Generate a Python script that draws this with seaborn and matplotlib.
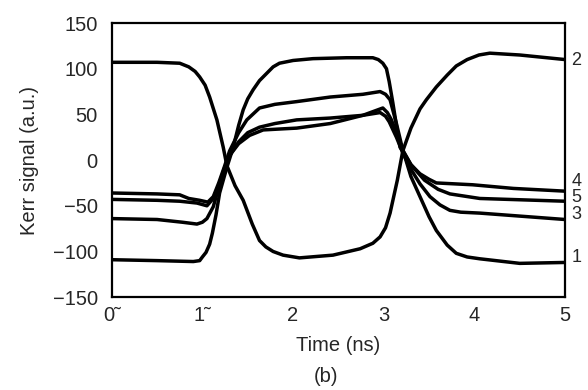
import matplotlib
matplotlib.use('Agg')
import matplotlib.pyplot as plt
import seaborn as sns
import pandas as pd

# curve values (time in ns, Kerr signal in a.u.)
t1 = [0, 0.5, 0.9, 0.97, 1.0, 1.04, 1.08, 1.11, 1.15, 1.19, 1.27, 1.34, 1.40, 1.45, 1.50, 1.56,
      1.63, 1.71, 1.78, 1.85, 2.0, 2.22, 2.59, 2.88, 2.94, 2.99, 3.03, 3.06, 3.10, 3.14, 3.18,
      3.22, 3.30, 3.40, 3.50, 3.58, 3.70, 3.80, 3.92, 4.06, 4.5, 5]
v1 = [-109, -110, -111, -110, -106, -101, -92, -80, -60, -36, -8, 14, 38, 55, 67, 77,
      87, 95, 102, 106, 109, 111, 112, 112, 110, 106, 100, 86, 63, 38, 14,
      8, -18, -40, -62, -77, -93, -102, -106, -108, -113, -112]

t2 = [0, 0.5, 0.75, 0.85, 0.92, 0.97, 1.03, 1.08, 1.16, 1.23, 1.27, 1.36, 1.45, 1.55, 1.63,
      1.70, 1.78, 1.89, 2.07, 2.44, 2.74, 2.88, 2.96, 3.02, 3.07, 3.15, 3.21, 3.30, 3.40,
      3.47, 3.58, 3.70, 3.80, 3.92, 4.05, 4.17, 4.5, 5]
v2 = [107, 107, 106, 102, 97, 91, 82, 69, 44, 14, -6, -28, -44, -70, -88,
      -95, -100, -104, -107, -104, -97, -91, -84, -74, -58, -22, 10, 35, 56,
      66, 80, 93, 103, 110, 115, 117, 115, 110]

t3 = [0, 0.5, 0.78, 0.94, 1.0, 1.05, 1.12, 1.18, 1.24, 1.30, 1.40, 1.52, 1.67, 1.85, 2.04,
      2.41, 2.77, 2.96, 3.02, 3.06, 3.14, 3.21, 3.30, 3.40, 3.51, 3.62, 3.73, 3.85, 4.06, 5]
v3 = [-64, -65, -68, -70, -68, -64, -51, -30, -10, 5, 18, 27, 33, 34, 35,
      40, 49, 52, 48, 42, 25, 8, -10, -26, -40, -49, -55, -57, -58, -65]

t4 = [0, 0.5, 0.75, 0.85, 0.97, 1.06, 1.12, 1.18, 1.24, 1.30, 1.40, 1.49, 1.63, 1.80, 2.04,
      2.41, 2.77, 2.96, 3.02, 3.07, 3.14, 3.21, 3.30, 3.40, 3.50, 3.58, 3.98, 4.43, 5]
v4 = [-36, -37, -38, -42, -44, -46, -40, -25, -8, 10, 30, 44, 57, 61, 64,
      69, 72, 75, 72, 66, 40, 11, -5, -15, -21, -25, -27, -31, -34]

t5 = [0, 0.5, 0.75, 0.94, 1.05, 1.12, 1.18, 1.24, 1.30, 1.40, 1.50, 1.63, 1.80, 2.04, 2.41,
      2.77, 2.99, 3.04, 3.08, 3.15, 3.21, 3.30, 3.45, 3.60, 3.73, 4.06, 5]
v5 = [-43, -44, -45, -47, -50, -42, -28, -10, 5, 20, 30, 36, 40, 44, 46,
      49, 57, 52, 45, 28, 10, -5, -22, -32, -37, -42, -45]

curve_names = ['1', '2', '3', '4', '5']
# where the curve number sits on the right edge (signal units)
label_y = [-107, 109, -60, -23, -41]

xtick_vals = [0, 1, 2, 3, 4, 5]
xtick_labels = ['0\u02dc', '1\u02dc', '2', '3', '4', '5']
ytick_vals = [-150, -100, -50, 0, 50, 100, 150]

# long table for seaborn
rows = []
for name, ts, vs in zip(curve_names, [t1, t2, t3, t4, t5], [v1, v2, v3, v4, v5]):
    for t, v in zip(ts, vs):
        rows.append({'curve': name, 'time': t, 'signal': v})
df = pd.DataFrame(rows)

sns.set_style('white')
plt.rcParams['font.family'] = ['Liberation Sans', 'DejaVu Sans']
fs = 14.5

fig = plt.figure(figsize=(5.88, 3.90), dpi=100)
ax = fig.add_axes([0.190, 0.238, 0.771, 0.703])

sns.lineplot(data=df, x='time', y='signal', units='curve', estimator=None,
             color='black', lw=2.5, sort=False, legend=False, ax=ax)

ax.set_xlim(0, 5)
ax.set_ylim(-150, 150)
ax.set_xticks(xtick_vals)
ax.set_xticklabels(xtick_labels)
ax.set_yticks(ytick_vals)
ax.set_yticklabels(['\u2212150', '\u2212100', '\u221250', '0', '50', '100', '150'])

ax.tick_params(axis='x', direction='in', length=11, width=0.9, labelsize=fs, pad=6,
               color='#333333')
ax.tick_params(axis='y', direction='in', length=6, width=0.9, labelsize=fs, pad=10,
               color='#333333')
for s in ax.spines.values():
    s.set_linewidth(1.6)
    s.set_color('black')

ax.set_xlabel('Time (ns)', fontsize=fs, labelpad=8)
ax.set_ylabel('Kerr signal (a.u.)', fontsize=fs, labelpad=10)

# curve numbers on the right
for name, y in zip(curve_names, label_y):
    ax.text(5.07, y, name, fontsize=13, va='center', ha='left', clip_on=False)

fig.text(0.555, 0.01, '(b)', fontsize=fs, ha='center', va='bottom')

fig.savefig('out.png', dpi=100)
